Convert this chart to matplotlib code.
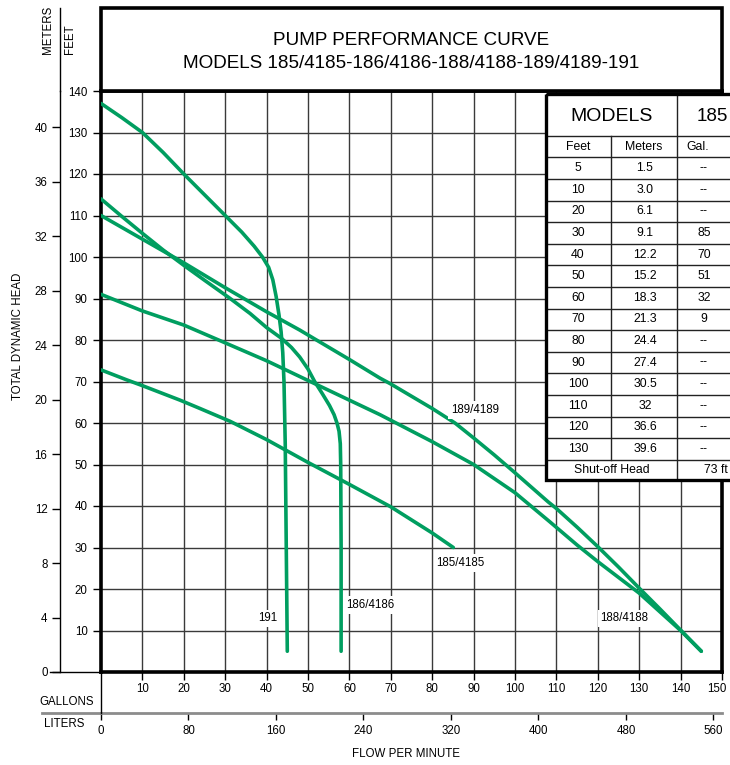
import matplotlib
matplotlib.use('Agg')
import matplotlib.pyplot as plt
import matplotlib.transforms as mtransforms
from matplotlib.patches import Rectangle
from matplotlib.lines import Line2D

plt.rcParams['font.family'] = ['Liberation Sans', 'DejaVu Sans']

# ---------------- data (gallons per minute vs. feet of head) ----------------
gal_191 = [0, 5, 10, 15, 20, 25, 30, 34, 37, 39, 40.5, 41.5, 42.3, 43, 43.5, 43.9, 44.2, 44.5, 44.7, 45.0]
ft_191 = [137, 133.6, 130, 125.2, 120, 115, 110, 106, 102.6, 100, 97.5, 94.5, 90.5, 86, 82, 77, 70, 55, 35, 5]

gal_186 = [0, 5, 10, 15, 20, 25, 31.2, 36, 40, 43.6, 46, 48, 50, 51.6, 53.5, 55.2, 56.3, 57, 57.5, 57.8, 57.9, 58.0, 58.0]
ft_186 = [114, 109.8, 105.7, 101.7, 98, 94.4, 90, 86.4, 83, 80.4, 78.2, 75.9, 73, 70, 67, 64.2, 62, 60, 58, 55, 50, 30, 5]

gal_189 = [0, 10, 20, 30, 40, 48, 51.2, 60, 67.4, 70, 80, 85.5, 90, 95, 100, 108, 110, 115, 120, 125, 130, 135, 140, 145]
ft_189 = [110, 104.3, 98.6, 92.6, 86.8, 82.4, 80.5, 75.3, 70.8, 69.4, 63.5, 60, 56.4, 52.3, 48, 41, 39.4, 34.9, 30.2, 25.3, 20.2, 15.2, 10.1, 5]

gal_188 = [0, 10, 20, 28.4, 40, 48, 60, 67.4, 80, 90, 100, 108.4, 115, 120, 125, 130, 135, 140, 145]
ft_188 = [91, 87, 83.6, 80, 75, 71.2, 65.5, 62, 55.5, 50, 43.2, 36.2, 30.6, 26.6, 22.8, 19, 14.5, 10, 5]

gal_185 = [0, 6.2, 10, 19.1, 23.9, 31.2, 40, 50, 60, 67.4, 70, 80, 85.1]
ft_185 = [72.8, 70.4, 69, 65.5, 63.5, 60.4, 56, 50.5, 45.2, 41.2, 39.8, 33.5, 30]

curve_names = ['191', '186/4186', '189/4189', '188/4188', '185/4185']

gal_ticks = list(range(10, 151, 10))
ft_ticks = list(range(10, 141, 10))
m_ticks = list(range(0, 41, 4))
liter_ticks = list(range(0, 561, 80))

# table contents
tbl_feet = ['5', '10', '20', '30', '40', '50', '60', '70', '80', '90', '100', '110', '120', '130']
tbl_meters = ['1.5', '3.0', '6.1', '9.1', '12.2', '15.2', '18.3', '21.3', '24.4', '27.4', '30.5', '32', '36.6', '39.6']
tbl_gal185 = ['--', '--', '--', '85', '70', '51', '32', '9', '--', '--', '--', '--', '--', '--']
shutoff_185 = '73 ft'

GREEN = '#009E60'
W, H = 730, 765
FS = 8.3      # small labels
FT = 8.8      # table body

fig = plt.figure(figsize=(W / 100, H / 100), dpi=100)
fig.patch.set_facecolor('white')

# main axes in pixel geometry
L, R, T, B = 101, 722, 91, 672
ax = fig.add_axes([L / W, (H - B) / H, (R - L) / W, (B - T) / H])
ax.set_xlim(0, 150)
ax.set_ylim(0, 140)
ax.set_xticks(gal_ticks)
ax.set_yticks(ft_ticks)
ax.grid(True, color='#3a3a3a', lw=1.0)
ax.set_axisbelow(True)
for s in ax.spines.values():
    s.set_linewidth(2.6)
    s.set_color('black')
ax.tick_params(axis='x', direction='out', length=6, width=1, pad=2, labelsize=FS)
ax.tick_params(axis='y', direction='out', length=6, width=1, pad=3.5, labelsize=FS)
last = ax.get_xticklabels()[-1]
last.set_transform(last.get_transform() + mtransforms.ScaledTranslation(-0.05, 0, fig.dpi_scale_trans))

for g, f in [(gal_191, ft_191), (gal_186, ft_186), (gal_189, ft_189), (gal_188, ft_188), (gal_185, ft_185)]:
    ax.plot(g, f, color=GREEN, lw=2.6, solid_capstyle='round', solid_joinstyle='round', zorder=3)

label_pos = {'191': (40.2, 12.9), '186/4186': (65.0, 16.1), '189/4189': (90.3, 63.1),
             '188/4188': (126.4, 12.9), '185/4185': (86.9, 26.3)}
for name in curve_names:
    x, y = label_pos[name]
    ax.text(x, y, name, ha='center', va='center', fontsize=FS, zorder=4,
            bbox=dict(facecolor='white', edgecolor='none', pad=2))

# meters axis
secy = ax.secondary_yaxis(-(L - 60) / (R - L), functions=(lambda f: f * 0.3048, lambda m: m / 0.3048))
secy.set_yticks(m_ticks)
secy.tick_params(direction='out', length=6, width=1, pad=3, labelsize=FS)
secy.spines['left'].set_linewidth(1.0)

# liters axis
secx = ax.secondary_xaxis(-(713 - B) / (B - T), functions=(lambda g: g * 3.78541, lambda l: l / 3.78541))
secx.set_xticks(liter_ticks)
secx.tick_params(direction='out', length=5, width=1, pad=4, labelsize=FS)
secx.spines['bottom'].set_color('#8c8c8c')
secx.spines['bottom'].set_linewidth(2.0)

# overlay in pixel coordinates for decorations
ov = fig.add_axes([0, 0, 1, 1], zorder=10)
ov.set_xlim(0, W)
ov.set_ylim(H, 0)
ov.axis('off')
ov.patch.set_alpha(0)

def seg(x0, y0, x1, y1, **kw):
    ov.add_line(Line2D([x0, x1], [y0, y1], **kw))

seg(60, 8, 60, T, color='black', lw=1.0)
seg(50, B, L, B, color='black', lw=1.0)
seg(42, 713, L, 713, color='#8c8c8c', lw=2.0)
seg(L, B, L, 713, color='black', lw=1.0)

ov.text(47.5, 54, 'METERS', rotation=90, ha='center', va='bottom', fontsize=FS)
ov.text(70, 54, 'FEET', rotation=90, ha='center', va='bottom', fontsize=FS)
ov.text(18, 336, 'TOTAL DYNAMIC HEAD', rotation=90, ha='center', va='center', fontsize=FS)
ov.text(67, 702, 'GALLONS', ha='center', va='center', fontsize=FS)
ov.text(64, 724, 'LITERS', ha='center', va='center', fontsize=FS)
ov.text(406, 754, 'FLOW PER MINUTE', ha='center', va='center', fontsize=FS)

# title box
ov.add_patch(Rectangle((L, 8), R - L, T - 8, facecolor='white', edgecolor='black', lw=2.6))
ov.text((L + R) / 2, 40, 'PUMP PERFORMANCE CURVE', ha='center', va='center', fontsize=13.6)
ov.text((L + R) / 2, 63, 'MODELS 185/4185-186/4186-188/4188-189/4189-191', ha='center', va='center', fontsize=13.6)

# table
tx0, tx1 = 546, 790
c1, c2 = 611, 677
ty0, tyh, tyr0 = 94, 136, 157.3
rh = 21.6
nrows = len(tbl_feet)
ty_end = tyr0 + nrows * rh
ty1 = 480
ov.add_patch(Rectangle((tx0, ty0), tx1 - tx0, ty1 - ty0, facecolor='white', edgecolor='none', zorder=1))
lc = '#222222'
seg(tx0, tyh, tx1, tyh, color=lc, lw=1.0)
for i in range(nrows + 1):
    y = tyr0 + i * rh
    seg(tx0, y, tx1, y, color=lc, lw=1.0)
seg(c1, tyh, c1, ty_end, color=lc, lw=1.0)
seg(c2, ty0, c2, ty1, color=lc, lw=1.0)
ov.add_patch(Rectangle((tx0, ty0), tx1 - tx0, ty1 - ty0, facecolor='none', edgecolor='black', lw=2.4, zorder=3))

ov.text((tx0 + c2) / 2, (ty0 + tyh) / 2 + 1, 'MODELS', ha='center', va='center', fontsize=14)
ov.text(712.5, (ty0 + tyh) / 2 + 1, '185', ha='center', va='center', fontsize=13.5)
ov.text((tx0 + c1) / 2, (tyh + tyr0) / 2, 'Feet', ha='center', va='center', fontsize=FT)
ov.text((c1 + c2) / 2, (tyh + tyr0) / 2, 'Meters', ha='center', va='center', fontsize=FT)
ov.text(697.5, (tyh + tyr0) / 2, 'Gal.', ha='center', va='center', fontsize=FT)
for i in range(nrows):
    yc = tyr0 + (i + 0.5) * rh
    ov.text(578, yc, tbl_feet[i], ha='center', va='center', fontsize=FT)
    ov.text(645, yc, tbl_meters[i], ha='center', va='center', fontsize=FT)
    ov.text(704, yc, tbl_gal185[i], ha='center', va='center', fontsize=FT)
ov.text((tx0 + c2) / 2, (ty_end + ty1) / 2, 'Shut-off Head', ha='center', va='center', fontsize=FT)
ov.text(716, (ty_end + ty1) / 2, shutoff_185, ha='center', va='center', fontsize=FT)

fig.savefig('out.png', dpi=100)
